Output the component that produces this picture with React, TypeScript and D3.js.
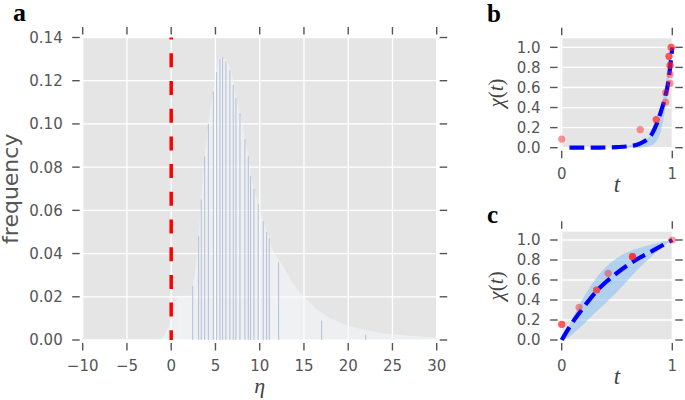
import React from "react";
import * as d3 from "d3";

// ---------- Panel a data ----------
const etaTicks = [-10, -5, 0, 5, 10, 15, 20, 25, 30];
const freqTicks = [0, 0.02, 0.04, 0.06, 0.08, 0.1, 0.12, 0.14];

// smooth light envelope of the histogram
const envEta = [-1.4, -0.8, -0.3, 0.2, 0.6, 1.0, 2.3, 2.45, 2.9, 3.1, 3.4, 3.8, 4.3, 4.8, 5.1, 5.5, 5.9, 6.3, 6.7, 7.0, 7.4, 8.0, 8.7, 9.1, 9.8, 10.4, 11.0, 11.3, 12.1, 12.7, 13.5, 14.5, 15.5, 16.5, 18.0, 20.0, 22.0, 24.0, 27.0, 30.0];
const envFreq = [0, 0.002, 0.006, 0.013, 0.019, 0.0205, 0.0205, 0.025, 0.038, 0.048, 0.065, 0.086, 0.104, 0.116, 0.124, 0.130, 0.131, 0.129, 0.126, 0.120, 0.111, 0.100, 0.085, 0.074, 0.063, 0.055, 0.048, 0.043, 0.037, 0.034, 0.028, 0.022, 0.018, 0.014, 0.010, 0.0065, 0.0045, 0.003, 0.002, 0.0012];

// coarse-bin layer
const coarseLeft = [0.7, 11.3];
const coarseRight = [2.5, 14.6];
const coarseFreq = [0.0205, 0.02];

// thin bar edges
const barEta = [2.43, 3.1, 3.4, 3.78, 4.2, 4.76, 5.13, 5.51, 5.81, 6.18, 6.63, 7.01, 7.31, 7.77, 8.33, 8.71, 8.97, 9.35, 9.84, 10.4, 10.78, 11.08, 12.14, 17.0, 21.97];
const barFreq = [0.025, 0.048, 0.065, 0.085, 0.1, 0.115, 0.124, 0.13, 0.131, 0.129, 0.125, 0.118, 0.112, 0.105, 0.093, 0.085, 0.076, 0.07, 0.063, 0.055, 0.05, 0.047, 0.036, 0.009, 0.0025];

const thresholdEta = 0;

// ---------- Panels b, c data ----------
const tTicks = [0, 1];
const chiTicks = [0, 0.2, 0.4, 0.6, 0.8, 1.0];

const bBandT = [0.3, 0.4, 0.5, 0.6, 0.68, 0.74, 0.8, 0.84, 0.87, 0.9, 0.93, 0.96, 0.98, 1.0];
const bUpper = [0, 0.003, 0.01, 0.022, 0.043, 0.07, 0.12, 0.18, 0.26, 0.38, 0.57, 0.78, 0.9, 1.0];
const bLower = [0, 0, 0, 0, 0, 0.005, 0.02, 0.045, 0.09, 0.18, 0.35, 0.6, 0.8, 1.0];
const bLineT = [0.07, 0.2, 0.3, 0.4, 0.5, 0.6, 0.68, 0.74, 0.8, 0.84, 0.87, 0.9, 0.92, 0.94, 0.96, 0.98, 1.0];
const bLineY = [0, 0, 0, 0.002, 0.006, 0.014, 0.03, 0.06, 0.11, 0.19, 0.27, 0.37, 0.44, 0.53, 0.63, 0.8, 1.0];
const bDotT = [0, 0.71, 0.855, 0.855, 0.94, 0.94, 0.98, 0.98, 0.98, 0.98, 0.97, 0.97, 0.99, 0.99];
const bDotY = [0.086, 0.18, 0.28, 0.28, 0.455, 0.55, 0.64, 0.73, 0.82, 0.82, 0.91, 0.91, 1.0, 1.0];

const cBandT = [0, 0.05, 0.1, 0.15, 0.2, 0.3, 0.4, 0.5, 0.6, 0.7, 0.8, 0.9, 1.0];
const cUpper = [0, 0.1, 0.22, 0.33, 0.43, 0.6, 0.73, 0.82, 0.88, 0.92, 0.95, 0.98, 1.0];
const cLower = [0, 0.02, 0.06, 0.11, 0.16, 0.27, 0.37, 0.48, 0.6, 0.72, 0.82, 0.92, 1.0];
const cLineT = [0, 0.1, 0.2, 0.3, 0.4, 0.5, 0.6, 0.7, 0.8, 0.9, 1.0];
const cLineY = [0, 0.18, 0.33, 0.47, 0.58, 0.67, 0.75, 0.82, 0.88, 0.94, 1.0];
const cDotT = [0, 0, 0.157, 0.316, 0.316, 0.42, 0.64, 0.64, 0.64, 1.0];
const cDotY = [0.157, 0.157, 0.327, 0.5, 0.5, 0.667, 0.833, 0.833, 0.833, 1.0];

const TICK = "#555555";
const LABEL_FONT = "'DejaVu Sans', sans-serif";
const SERIF = "'Liberation Serif', 'Times New Roman', serif";

function Ticks({ x, y, xt, yt, fmtY, fmtX }: any) {
  const [x0, x1] = x.range();
  const [y0, y1] = y.range(); // y0 bottom, y1 top
  const gap = 3, len = 7.5;
  return (
    <g>
      {xt.map((v: number) => (
        <g key={"x" + v}>
          <line x1={x(v)} x2={x(v)} y1={y1 - gap} y2={y1 - gap - len} stroke={TICK} strokeWidth={1.4} />
          <line x1={x(v)} x2={x(v)} y1={y0 + gap} y2={y0 + gap + len} stroke={TICK} strokeWidth={1.4} />
          <text x={x(v)} y={y0 + 31} textAnchor="middle" fontFamily={LABEL_FONT} fontSize={15} fill={TICK}>
            {fmtX(v)}
          </text>
        </g>
      ))}
      {yt.map((v: number) => (
        <g key={"y" + v}>
          <line x1={x0 - gap} x2={x0 - gap - len} y1={y(v)} y2={y(v)} stroke={TICK} strokeWidth={1.4} />
          <line x1={x1 + gap} x2={x1 + gap + len} y1={y(v)} y2={y(v)} stroke={TICK} strokeWidth={1.4} />
          <text x={x0 - 20} y={y(v) + 5.4} textAnchor="end" fontFamily={LABEL_FONT} fontSize={15} fill={TICK}>
            {fmtY(v)}
          </text>
        </g>
      ))}
    </g>
  );
}

function Grid({ x, y, xt, yt }: any) {
  const [x0, x1] = x.range();
  const [y0, y1] = y.range();
  return (
    <g>
      <rect x={x0} y={y1} width={x1 - x0} height={y0 - y1} fill="#e5e5e5" />
      {xt.map((v: number) => (
        <line key={"gx" + v} x1={x(v)} x2={x(v)} y1={y1} y2={y0} stroke="#ffffff" strokeWidth={1.3} />
      ))}
      {yt.map((v: number) => (
        <line key={"gy" + v} x1={x0} x2={x1} y1={y(v)} y2={y(v)} stroke="#ffffff" strokeWidth={1.3} />
      ))}
    </g>
  );
}

function ChiPanel({ top, bottom, yTop, bandT, up, lo, lineT, lineY, dotT, dotY, letter, letterY }: any) {
  const x = d3.scaleLinear().domain([-0.01, 1.0]).range([560.6, 672.3]);
  const y = d3.scaleLinear().domain([0, yTop]).range([bottom, top]);
  const area = d3
    .area<number>()
    .x((_, i) => x(bandT[i]))
    .y0((_, i) => y(lo[i]))
    .y1((_, i) => y(up[i]))
    .curve(d3.curveMonotoneX);
  const line = d3
    .line<number>()
    .x((_, i) => x(lineT[i]))
    .y((_, i) => y(lineY[i]))
    .curve(d3.curveMonotoneX);
  const yc = (top + bottom) / 2;
  return (
    <g>
      <Grid x={x} y={y} xt={tTicks} yt={chiTicks} />
      <path d={area(bandT) || ""} fill="#86bff5" fillOpacity={0.55} />
      <path d={line(lineT) || ""} fill="none" stroke="#0000ff" strokeWidth={4.2} strokeDasharray="14.8,6.4" />
      {dotT.map((t: number, i: number) => (
        <circle key={i} cx={x(t)} cy={y(dotY[i])} r={3.6} fill="#ff1a1a" fillOpacity={0.45} />
      ))}
      <Ticks x={x} y={y} xt={tTicks} yt={chiTicks} fmtX={d3.format("d")} fmtY={d3.format(".1f")} />
      <text x={x(0.5)} y={bottom + 44} textAnchor="middle" fontFamily={SERIF} fontStyle="italic" fontSize={23} fill="#444">
        t
      </text>
      <text transform={`translate(503,${yc}) rotate(-90)`} textAnchor="middle" fontFamily={SERIF} fontSize={21} fill="#444">
        <tspan fontStyle="italic">χ</tspan>(<tspan fontStyle="italic">t</tspan>)
      </text>
      <text x={487} y={letterY} fontFamily={SERIF} fontWeight="bold" fontSize={25} fill="#000">
        {letter}
      </text>
    </g>
  );
}

export default function App() {
  const x = d3.scaleLinear().domain([-10, 30]).range([82.7, 436.7]);
  const y = d3.scaleLinear().domain([0, 0.14]).range([340, 37.5]);
  const env = d3
    .area<number>()
    .x((_, i) => x(envEta[i]))
    .y0(y(0))
    .y1((_, i) => y(envFreq[i]))
    .curve(d3.curveLinear);

  return (
    <svg width={685} height={400} style={{ position: "absolute", left: 0, top: 0, background: "#fff" }}>
      {/* Panel a */}
      <Grid x={x} y={y} xt={etaTicks} yt={freqTicks} />
      {coarseLeft.map((l, i) => (
        <rect key={"c" + i} x={x(l)} y={y(coarseFreq[i])} width={x(coarseRight[i]) - x(l)} height={y(0) - y(coarseFreq[i])} fill="#ffffff" fillOpacity={0.18} />
      ))}
      <path d={env(envEta) || ""} fill="#f6f7fa" fillOpacity={0.55} />
      {barEta.map((e, i) => (
        <line key={"b" + i} x1={x(e)} x2={x(e)} y1={y(0)} y2={y(barFreq[i])} stroke="#a9b6d3" strokeWidth={1} strokeOpacity={0.85} />
      ))}
      <line x1={x(thresholdEta)} x2={x(thresholdEta)} y1={y(0.14)} y2={y(0)} stroke="#ff0000" strokeWidth={3.5} strokeDasharray="14,13.7" strokeDashoffset={11.9} />
      <Ticks x={x} y={y} xt={etaTicks} yt={freqTicks} fmtX={d3.format("d")} fmtY={d3.format(".2f")} />
      <text x={x(10)} y={393} textAnchor="middle" fontFamily={SERIF} fontStyle="italic" fontSize={22} fill="#444">
        η
      </text>
      <text transform={`translate(18,${(37.5 + 340) / 2}) rotate(-90)`} textAnchor="middle" fontFamily={LABEL_FONT} fontSize={22} fill="#555">
        frequency
      </text>
      <text x={13} y={21} fontFamily={SERIF} fontWeight="bold" fontSize={26} fill="#000">
        a
      </text>

      {/* Panel b */}
      <ChiPanel top={38.3} bottom={147.7} yTop={1.09} bandT={bBandT} up={bUpper} lo={bLower} lineT={bLineT} lineY={bLineY} dotT={bDotT} dotY={bDotY} letter="b" letterY={21.5} />
      {/* Panel c */}
      <ChiPanel top={231.7} bottom={340} yTop={1.083} bandT={cBandT} up={cUpper} lo={cLower} lineT={cLineT} lineY={cLineY} dotT={cDotT} dotY={cDotY} letter="c" letterY={223} />
    </svg>
  );
}
